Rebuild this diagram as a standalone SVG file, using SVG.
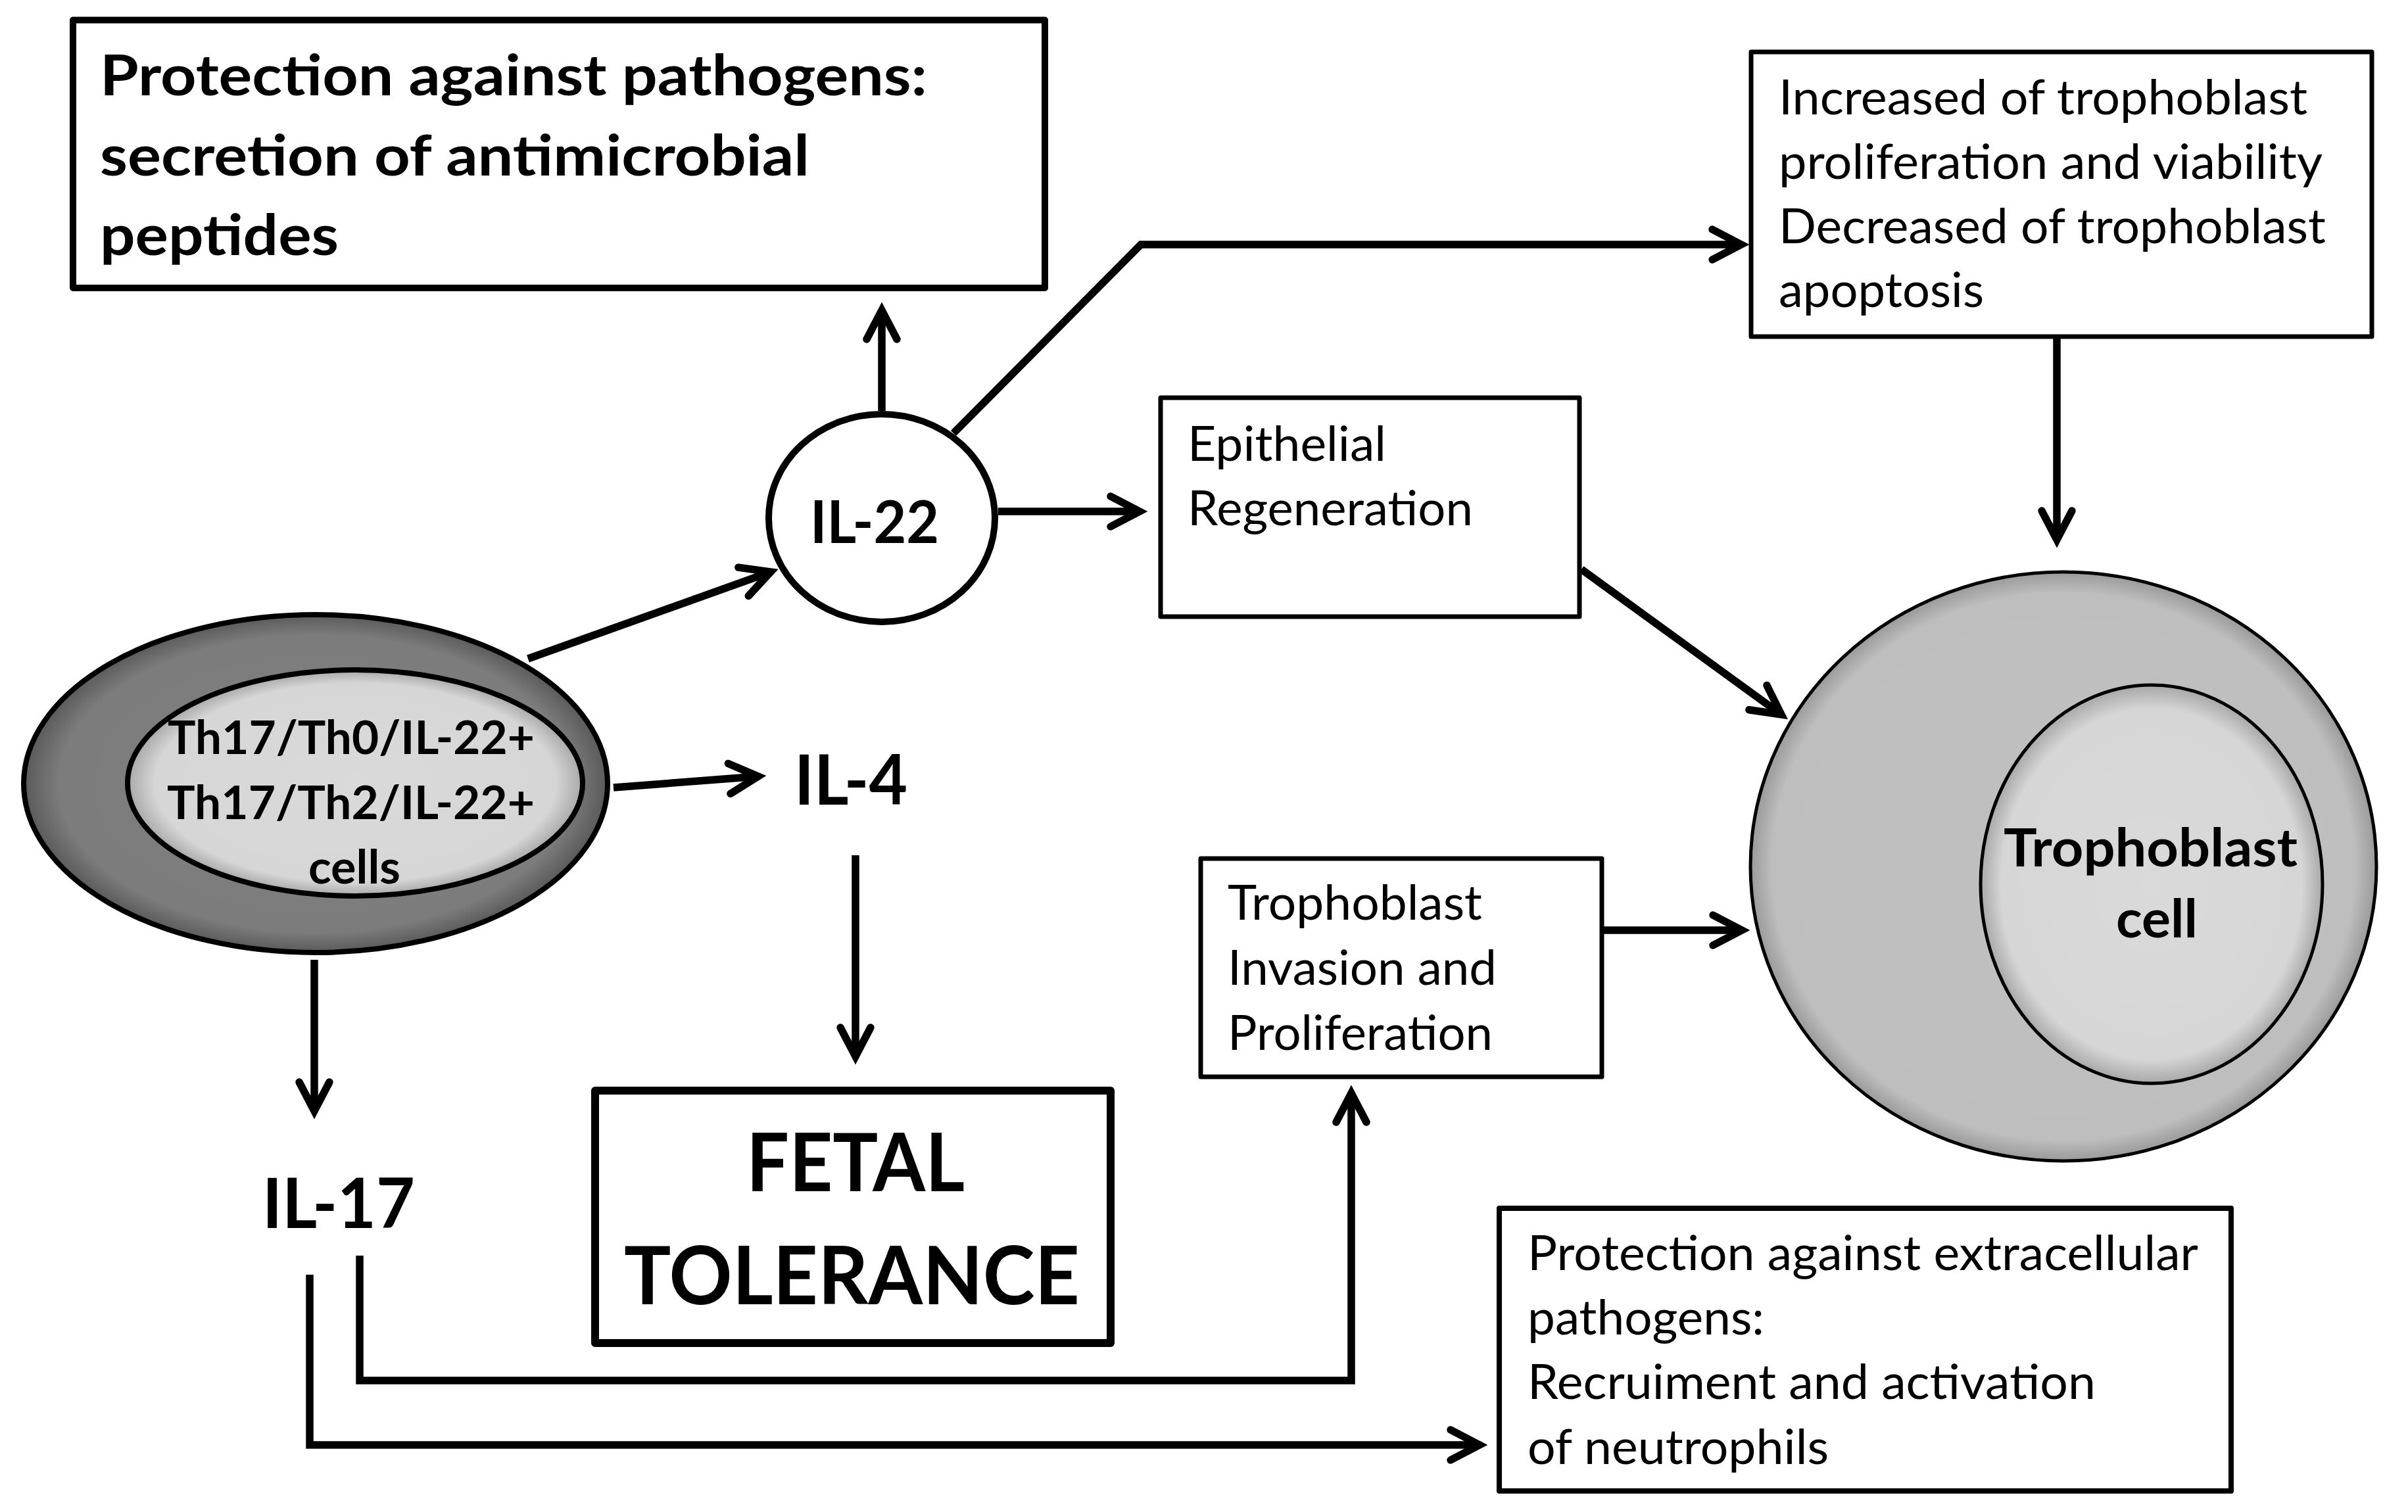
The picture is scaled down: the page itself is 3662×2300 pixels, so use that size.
<svg xmlns="http://www.w3.org/2000/svg" width="3662" height="2300" viewBox="0 0 3662 2300">
<style>
.box{fill:#fff;stroke:#000;stroke-linejoin:round}
.t{font-family:Lato,"Open Sans","Liberation Sans",sans-serif;fill:#000}
.r{font-weight:400;font-size:73px}
.b{font-weight:700}
.c{fill:none;stroke:#000;stroke-width:11.5;stroke-linejoin:miter;marker-end:url(#ah)}
</style>
<defs>
<marker id="ah" markerUnits="userSpaceOnUse" viewBox="-70 -40 90 80" refX="0" refY="0" markerWidth="90" markerHeight="80" orient="auto" overflow="visible">
<path d="M-44,-23 L0,0 L-44,23" fill="none" stroke="#000" stroke-width="11.5" stroke-linecap="round" stroke-linejoin="miter" stroke-miterlimit="10"/>
</marker>
<radialGradient id="gDark" cx="0.5" cy="0.5" r="0.5">
<stop offset="0" stop-color="#808080"/><stop offset="0.88" stop-color="#7c7c7c"/><stop offset="1" stop-color="#5a5a5a"/>
</radialGradient>
<radialGradient id="gLight" cx="0.5" cy="0.5" r="0.5">
<stop offset="0" stop-color="#dadada"/><stop offset="0.88" stop-color="#d6d6d6"/><stop offset="1" stop-color="#a8a8a8"/>
</radialGradient>
<radialGradient id="gMid" cx="0.5" cy="0.5" r="0.5">
<stop offset="0" stop-color="#c0c0c0"/><stop offset="0.93" stop-color="#bebebe"/><stop offset="1" stop-color="#9a9a9a"/>
</radialGradient>
</defs>

<g id="connectors">
<path class="c" d="M1341,625 L1341,472"/>
<path class="c" d="M1450,659 L1735,372 L2648,372"/>
<path class="c" d="M1518,778 L1733,778"/>
<path class="c" d="M803,1002 L1172,870"/>
<path class="c" d="M933,1198 L1153,1181"/>
<path class="c" d="M1301,1301 L1301,1607"/>
<path class="c" d="M478,1460 L478,1690"/>
<path class="c" d="M547,1910 L547,2100 L2055,2100 L2055,1663"/>
<path class="c" d="M471,1939 L471,2198 L2250,2198"/>
<path class="c" d="M3128,512 L3128,821"/>
<path class="c" d="M2405,866 L2709,1087"/>
<path class="c" d="M2437,1415 L2649,1415"/>
</g>

<g id="box-antimicrobial">
<rect class="box" x="111" y="30.5" width="1478" height="407.5" stroke-width="10"/>
<text class="t b" font-size="86" x="152" y="145" textLength="1258" lengthAdjust="spacingAndGlyphs">Protection against pathogens:</text>
<text class="t b" font-size="86" x="152" y="267" textLength="1079" lengthAdjust="spacingAndGlyphs">secretion of antimicrobial</text>
<text class="t b" font-size="86" x="152" y="388" textLength="363" lengthAdjust="spacingAndGlyphs">peptides</text>
</g>

<g id="box-trophoblast-viability">
<rect class="box" x="2663" y="79" width="944" height="433" stroke-width="7"/>
<text class="t r" x="2705" y="174" textLength="804" lengthAdjust="spacingAndGlyphs">Increased of trophoblast</text>
<text class="t r" x="2705" y="272" textLength="827" lengthAdjust="spacingAndGlyphs">proliferation and viability</text>
<text class="t r" x="2705" y="370" textLength="832" lengthAdjust="spacingAndGlyphs">Decreased of trophoblast</text>
<text class="t r" x="2705" y="467" textLength="312" lengthAdjust="spacingAndGlyphs">apoptosis</text>
</g>

<g id="node-il22">
<ellipse cx="1341" cy="788" rx="172" ry="158" fill="#fff" stroke="#000" stroke-width="10"/>
<text class="t b" font-size="89" x="1232" y="826" textLength="196" lengthAdjust="spacingAndGlyphs">IL-22</text>
</g>

<g id="box-epithelial">
<rect class="box" x="1765" y="605" width="637" height="333" stroke-width="7"/>
<text class="t r" x="1806" y="701" textLength="302" lengthAdjust="spacingAndGlyphs">Epithelial</text>
<text class="t r" x="1806" y="799" textLength="434" lengthAdjust="spacingAndGlyphs">Regeneration</text>
</g>

<g id="node-th17-cells">
<ellipse cx="480" cy="1192" rx="444" ry="257" fill="url(#gDark)" stroke="#000" stroke-width="8"/>
<ellipse cx="540" cy="1191" rx="346" ry="172" fill="url(#gLight)" stroke="#000" stroke-width="8"/>
<text class="t b" font-size="70" x="255" y="1147" textLength="558" lengthAdjust="spacingAndGlyphs">Th17/Th0/IL-22+</text>
<text class="t b" font-size="70" x="254" y="1246" textLength="559" lengthAdjust="spacingAndGlyphs">Th17/Th2/IL-22+</text>
<text class="t b" font-size="70" x="469" y="1344" textLength="140" lengthAdjust="spacingAndGlyphs">cells</text>
</g>

<g id="node-il4">
<text class="t b" font-size="106" x="1208" y="1224" textLength="172" lengthAdjust="spacingAndGlyphs">IL-4</text>
</g>

<g id="node-il17">
<text class="t b" font-size="106" x="399" y="1868" textLength="232" lengthAdjust="spacingAndGlyphs">IL-17</text>
</g>

<g id="box-fetal-tolerance">
<rect class="box" x="905" y="1659" width="784" height="384" stroke-width="12"/>
<text class="t b" font-size="123" x="1135" y="1812" textLength="332" lengthAdjust="spacingAndGlyphs">FETAL</text>
<text class="t b" font-size="123" x="949" y="1984" textLength="693" lengthAdjust="spacingAndGlyphs">TOLERANCE</text>
</g>

<g id="box-invasion">
<rect class="box" x="1826" y="1306" width="610" height="332" stroke-width="7"/>
<text class="t r" x="1867" y="1399" textLength="387" lengthAdjust="spacingAndGlyphs">Trophoblast</text>
<text class="t r" x="1867" y="1498" textLength="409" lengthAdjust="spacingAndGlyphs">Invasion and</text>
<text class="t r" x="1867" y="1597" textLength="403" lengthAdjust="spacingAndGlyphs">Proliferation</text>
</g>

<g id="node-trophoblast-cell">
<ellipse cx="3138" cy="1318" rx="476" ry="448" fill="url(#gMid)" stroke="#000" stroke-width="5"/>
<ellipse cx="3272" cy="1345" rx="260" ry="303" fill="url(#gLight)" stroke="#000" stroke-width="5"/>
<text class="t b" font-size="81" x="3047" y="1318" textLength="447" lengthAdjust="spacingAndGlyphs">Trophoblast</text>
<text class="t b" font-size="81" x="3218" y="1426" textLength="124" lengthAdjust="spacingAndGlyphs">cell</text>
</g>

<g id="box-neutrophils">
<rect class="box" x="2280" y="1838" width="1113" height="430" stroke-width="8"/>
<text class="t r" x="2323" y="1932" textLength="1020" lengthAdjust="spacingAndGlyphs">Protection against extracellular</text>
<text class="t r" x="2323" y="2030" textLength="360" lengthAdjust="spacingAndGlyphs">pathogens:</text>
<text class="t r" x="2323" y="2128" textLength="864" lengthAdjust="spacingAndGlyphs">Recruiment and activation</text>
<text class="t r" x="2323" y="2227" textLength="458" lengthAdjust="spacingAndGlyphs">of neutrophils</text>
</g>
</svg>
